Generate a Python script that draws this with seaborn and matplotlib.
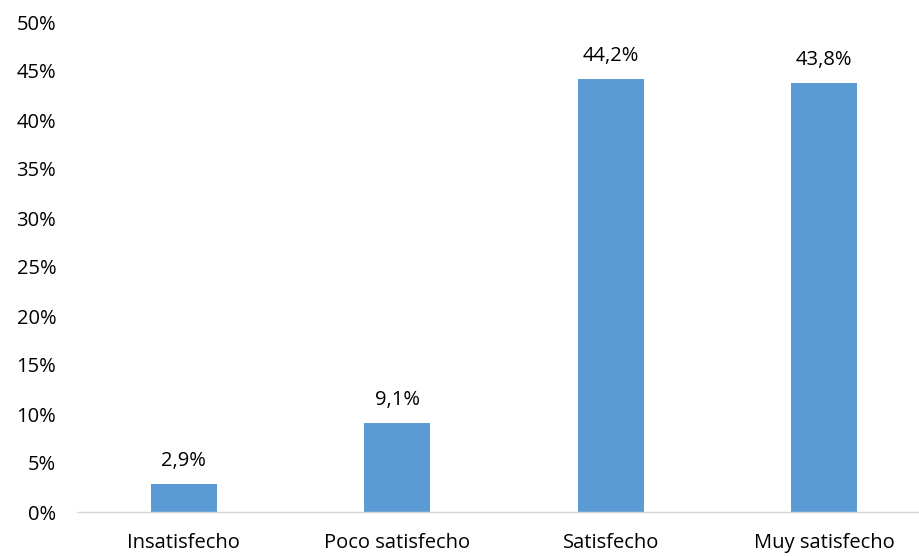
import matplotlib
matplotlib.use("Agg")
import matplotlib.pyplot as plt
import seaborn as sns
import pandas as pd
from matplotlib.ticker import FuncFormatter

categories = ["Insatisfecho", "Poco satisfecho", "Satisfecho", "Muy satisfecho"]
values = [2.9, 9.1, 44.2, 43.8]
labels = ["2,9%", "9,1%", "44,2%", "43,8%"]

sns.set_style("white")
plt.rcParams['font.family'] = ['Open Sans', 'DejaVu Sans']

df = pd.DataFrame({"cat": categories, "val": values})

fig = plt.figure(figsize=(9.2, 5.56), dpi=100)
ax = fig.add_axes([77/920, 44/556, 843/920, (512-22)/556])
sns.barplot(data=df, x="cat", y="val", color="#5B9BD5", saturation=1, width=0.31,
            linewidth=0, ax=ax)

ax.set_ylim(0, 50)
ax.set_xlim(-0.5, -0.5 + 843/213.5)
ax.set_yticks(range(0, 51, 5))
ax.yaxis.set_major_formatter(FuncFormatter(lambda v, p: f"{int(v)}%"))
ax.set_xlabel("")
ax.set_ylabel("")
for s in ["top", "right", "left"]:
    ax.spines[s].set_visible(False)
ax.spines["bottom"].set_color("#D9D9D9")
ax.spines["bottom"].set_linewidth(1)
ax.tick_params(axis="both", length=0, labelsize=14.5, colors="#000000")
ax.tick_params(axis="x", pad=15)
ax.tick_params(axis="y", pad=15)

for i, (v, l) in enumerate(zip(values, labels)):
    ax.text(i, v + 1.3, l, ha="center", va="bottom", fontsize=14.5, color="#000000")

fig.savefig("out.png", dpi=100)
